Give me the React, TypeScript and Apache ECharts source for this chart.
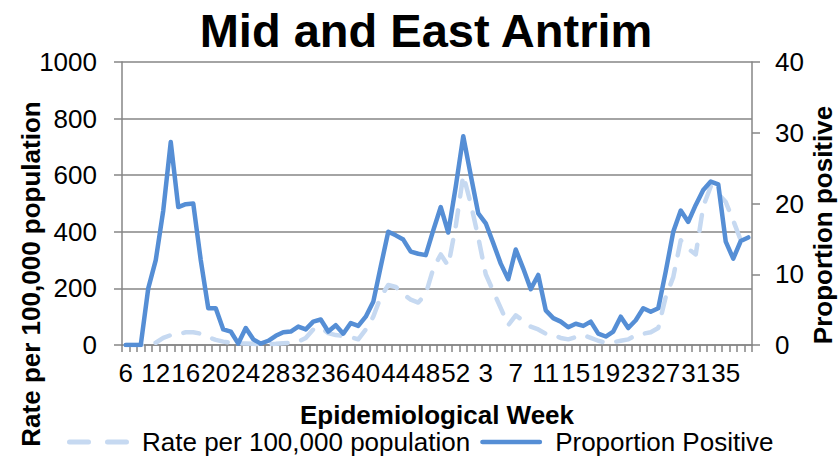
import React, { useEffect, useRef } from "react";
import * as echarts from "echarts";

const weeks = [
  "6", "9", "10", "11", "12", "13", "14", "15", "16", "17", "18", "19", "20", "21", "22", "23",
  "24", "25", "26", "27", "28", "29", "30", "31", "32", "33", "34", "35", "36", "37", "38", "39",
  "40", "41", "42", "43", "44", "45", "46", "47", "48", "49", "50", "51", "52", "53",
  "1", "2", "3", "4", "5", "6", "7", "8", "9", "10", "11", "12", "13", "14", "15", "16", "17",
  "18", "19", "20", "21", "22", "23", "24", "25", "26", "27", "28", "29", "30", "31", "32", "33",
  "34", "35", "36", "37", "38",
];

const ratePer100k = [
  0, 0, 0, 2, 8, 25, 35, 38, 45, 45, 40, 28, 18, 12, 8, 6,
  5, 4, 3, 3, 4, 6, 8, 12, 25, 55, 62, 42, 35, 32, 28, 20,
  55, 100, 170, 212, 205, 180, 160, 150, 180, 270, 320, 280, 420, 600,
  500, 380, 250, 190, 130, 70, 105, 85, 65, 55, 40, 35, 25, 20, 28, 35, 25,
  15, 8, 10, 15, 20, 35, 40, 45, 60, 170, 240, 370, 340, 320, 490, 560,
  535, 505, 440, 370, 370,
];

const proportionPositive = [
  0, 0, 0, 8.0, 12.0, 19.0, 28.7, 19.5, 19.9, 20.0, 12.0, 5.2, 5.2, 2.2, 1.9, 0.2,
  2.4, 0.8, 0.2, 0.6, 1.3, 1.8, 1.9, 2.6, 2.2, 3.3, 3.6, 1.9, 2.8, 1.6, 3.1, 2.7,
  4.0, 6.1, 11.1, 16.0, 15.5, 14.9, 13.2, 12.9, 12.7, 16.2, 19.5, 15.9, 22.4, 29.5,
  24.0, 18.6, 17.2, 14.4, 11.5, 9.3, 13.5, 10.8, 7.9, 9.9, 4.9, 3.8, 3.3, 2.5, 3.0, 2.7, 3.3,
  1.6, 1.2, 1.9, 4.0, 2.4, 3.5, 5.2, 4.7, 5.2, 10.4, 16.0, 19.0, 17.4, 19.8, 21.9, 23.1,
  22.7, 14.6, 12.2, 14.7, 15.2,
];

const titleText = "Mid and East Antrim";
const xTitle = "Epidemiological Week";
const yLeftTitle = "Rate per 100,000 population";
const yRightTitle = "Proportion positive";
const rateName = "Rate per 100,000 population";
const propName = "Proportion Positive";

const dashIcon =
  "path://M2.5,0 H21.5 A2.5,2.5 0 0 1 21.5,5 H2.5 A2.5,2.5 0 0 1 2.5,0 Z M40.5,0 H59.5 A2.5,2.5 0 0 1 59.5,5 H40.5 A2.5,2.5 0 0 1 40.5,0 Z";
const solidIcon = "path://M2.5,0 H63.5 A2.5,2.5 0 0 1 63.5,5 H2.5 A2.5,2.5 0 0 1 2.5,0 Z";

export default function App() {
  const ref = useRef<HTMLDivElement>(null);
  useEffect(() => {
    const chart = echarts.init(ref.current!, null, { renderer: "svg" });
    const font = '"Liberation Sans", Arial, Helvetica, sans-serif';
    const gray = "#868686";
    const blue = "#558ED5";
    const light = "#C6D9F1";
    chart.setOption({
      animation: false,
      backgroundColor: "#ffffff",
      textStyle: { fontFamily: font, color: "#000" },
      grid: {
        left: 122,
        right: 87,
        top: 62,
        bottom: 119,
        containLabel: false,
        outerBoundsMode: "none",
      },
      graphic: [
        {
          type: "text",
          x: 426,
          y: 30,
          style: {
            text: titleText,
            font: `bold 47px ${font}`,
            fill: "#000",
            align: "center",
            verticalAlign: "middle",
          },
        },
        {
          type: "text",
          x: 31,
          y: 274,
          rotation: Math.PI / 2,
          style: {
            text: yLeftTitle,
            font: `bold 26px ${font}`,
            fill: "#000",
            align: "center",
            verticalAlign: "middle",
          },
        },
        {
          type: "text",
          x: 823,
          y: 225,
          rotation: Math.PI / 2,
          style: {
            text: yRightTitle,
            font: `bold 26px ${font}`,
            fill: "#000",
            align: "center",
            verticalAlign: "middle",
          },
        },
      ],
      legend: {
        left: 62,
        bottom: 4,
        itemWidth: 62,
        itemHeight: 5,
        itemGap: 10,
        textStyle: { fontSize: 26, fontFamily: font, color: "#000", padding: [0, 0, 0, 8] },
        data: [
          { name: rateName, icon: dashIcon, itemStyle: { color: light } },
          { name: propName, icon: solidIcon, itemStyle: { color: blue } },
        ],
      },
      xAxis: {
        type: "category",
        data: weeks,
        boundaryGap: true,
        name: xTitle,
        nameLocation: "middle",
        nameGap: 57,
        nameTextStyle: { fontSize: 26, fontWeight: "bold", fontFamily: font, color: "#000" },
        axisLine: { show: true, lineStyle: { color: gray, width: 1.5 } },
        axisTick: { show: true, interval: 0, length: 7, lineStyle: { color: gray, width: 1.5 } },
        axisLabel: { interval: 3, fontSize: 26, color: "#000", margin: 15, fontFamily: font },
        splitLine: { show: false },
      },
      yAxis: [
        {
          type: "value",
          min: 0,
          max: 1000,
          interval: 200,
          position: "left",
          axisLine: { show: true, lineStyle: { color: gray, width: 1.5 } },
          axisTick: { show: true, length: 8, lineStyle: { color: gray, width: 1.5 } },
          axisLabel: {
            fontSize: 26,
            color: "#000",
            margin: 25,
            fontFamily: font,
            formatter: (v: number) => String(v),
          },
          splitLine: { show: true, lineStyle: { color: gray, width: 1.5 } },
        },
        {
          type: "value",
          min: 0,
          max: 40,
          interval: 10,
          position: "right",
          axisLine: { show: true, lineStyle: { color: gray, width: 1.5 } },
          axisTick: { show: true, length: 8, lineStyle: { color: gray, width: 1.5 } },
          axisLabel: {
            fontSize: 26,
            color: "#000",
            margin: 23,
            fontFamily: font,
            formatter: (v: number) => String(v),
          },
          splitLine: { show: false },
        },
      ],
      series: [
        {
          name: rateName,
          type: "line",
          yAxisIndex: 0,
          data: ratePer100k,
          symbol: "none",
          color: light,
          lineStyle: { color: light, width: 4.5, type: [16, 14], cap: "round", join: "round" },
          z: 2,
        },
        {
          name: propName,
          type: "line",
          yAxisIndex: 1,
          data: proportionPositive,
          symbol: "none",
          color: blue,
          lineStyle: { color: blue, width: 4.5, type: "solid", cap: "round", join: "round" },
          z: 3,
        },
      ],
    });
    return () => chart.dispose();
  }, []);
  return (
    <div
      ref={ref}
      style={{ position: "fixed", left: 0, top: 0, width: 839, height: 464, background: "#fff" }}
    />
  );
}
